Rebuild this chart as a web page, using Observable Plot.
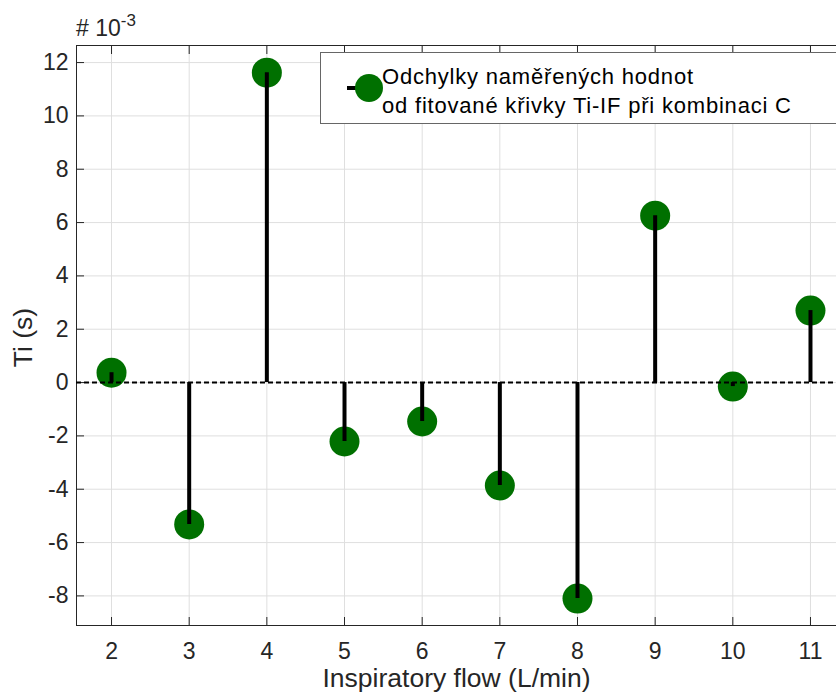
<!DOCTYPE html>
<html>
<head>
<meta charset="utf-8">
<script src="https://cdn.jsdelivr.net/npm/d3@7"></script>
<script src="https://cdn.jsdelivr.net/npm/@observablehq/plot@0.6"></script>
<style>
  html, body { margin: 0; padding: 0; background: #fff; }
  svg { display: block; }
</style>
</head>
<body>
<div id="chart"></div>
<script>
// Data
const flows = [2, 3, 4, 5, 6, 7, 8, 9, 10, 11];
const deviations = [0.37, -5.32, 11.62, -2.21, -1.46, -3.86, -8.10, 6.26, -0.15, 2.70]; // ×10^-3 s
const xTicks = [2, 3, 4, 5, 6, 7, 8, 9, 10, 11];
const yTicks = [-8, -6, -4, -2, 0, 2, 4, 6, 8, 10, 12];
const xLabel = "Inspiratory flow (L/min)";
const yLabel = "Ti (s)";
const legendLines = ["Odchylky naměřených hodnot", "od fitované křivky Ti-IF při kombinaci C"];

const data = flows.map((x, i) => ({x, y: deviations[i]}));

const font = "'Liberation Sans', Arial, Helvetica, sans-serif";
const axisColor = "#262626";
const green = "#007000";

const plot = Plot.plot({
  width: 836,
  height: 693,
  marginLeft: 76,
  marginRight: 0,
  marginTop: 45,
  marginBottom: 68,
  style: {fontFamily: font, fontSize: "23px", color: axisColor, background: "white"},
  x: {domain: [1.549, 11.335]},
  y: {domain: [-9.11, 12.64]},
  marks: [
    Plot.gridX(xTicks, {stroke: "#dfdfdf", strokeOpacity: 1}),
    Plot.gridY(yTicks, {stroke: "#dfdfdf", strokeOpacity: 1}),
    Plot.frame({anchor: "top", stroke: axisColor}),
    Plot.frame({anchor: "bottom", stroke: axisColor}),
    Plot.frame({anchor: "left", stroke: axisColor}),
    Plot.axisX(xTicks, {anchor: "bottom", tickSize: -8, tickPadding: 25, label: null, stroke: axisColor, fill: axisColor, fontSize: 23}),
    Plot.axisX(xTicks, {anchor: "top", tickSize: -8, tickFormat: () => "", label: null, stroke: axisColor}),
    Plot.axisY(yTicks, {anchor: "left", tickSize: -8, tickPadding: 16, label: null, tickFormat: d => String(d), stroke: axisColor, fill: axisColor, fontSize: 23}),
    Plot.dot(data, {x: "x", y: "y", r: 15, fill: green, stroke: null}),
    Plot.ruleX(data, {x: "x", y1: 0, y2: "y", stroke: "black", strokeWidth: 4}),
    Plot.ruleY([0], {stroke: "black", strokeWidth: 2, strokeDasharray: "5,3"}),
    Plot.text([xLabel], {frameAnchor: "bottom", dy: 53, fontSize: 26.5, fill: axisColor, lineAnchor: "middle", textAnchor: "middle"}),
    Plot.text([yLabel], {frameAnchor: "left", dx: -53, dy: 2, rotate: -90, fontSize: 26.5, fill: axisColor, lineAnchor: "middle", textAnchor: "middle"})
  ]
});

document.getElementById("chart").appendChild(plot);

// Exponent label "# 10^-3"
const svg = d3.select(plot);
const expo = svg.append("text")
  .attr("x", 76).attr("y", 36)
  .style("font-family", font).style("font-size", "23px").style("text-anchor", "start")
  .attr("fill", axisColor);
expo.append("tspan").text("# 10");
expo.append("tspan").attr("dy", -10).style("font-size", "17px").text("-3");

// Legend
const lg = svg.append("g");
lg.append("rect").attr("x", 320.5).attr("y", 52.5).attr("width", 520).attr("height", 71)
  .attr("fill", "white").attr("stroke", "#666").attr("stroke-width", 1);
lg.append("line").attr("x1", 347).attr("x2", 358).attr("y1", 88).attr("y2", 88)
  .attr("stroke", "black").attr("stroke-width", 4);
lg.append("circle").attr("cx", 369).attr("cy", 88).attr("r", 14).attr("fill", green);
legendLines.forEach((t, i) => {
  lg.append("text").attr("x", 382).attr("y", 76 + i * 29).attr("dy", "0.35em")
    .style("font-family", font).style("font-size", "22px").style("letter-spacing", "0.8px")
    .style("text-anchor", "start")
    .attr("fill", "black").text(t);
});
</script>
</body>
</html>
